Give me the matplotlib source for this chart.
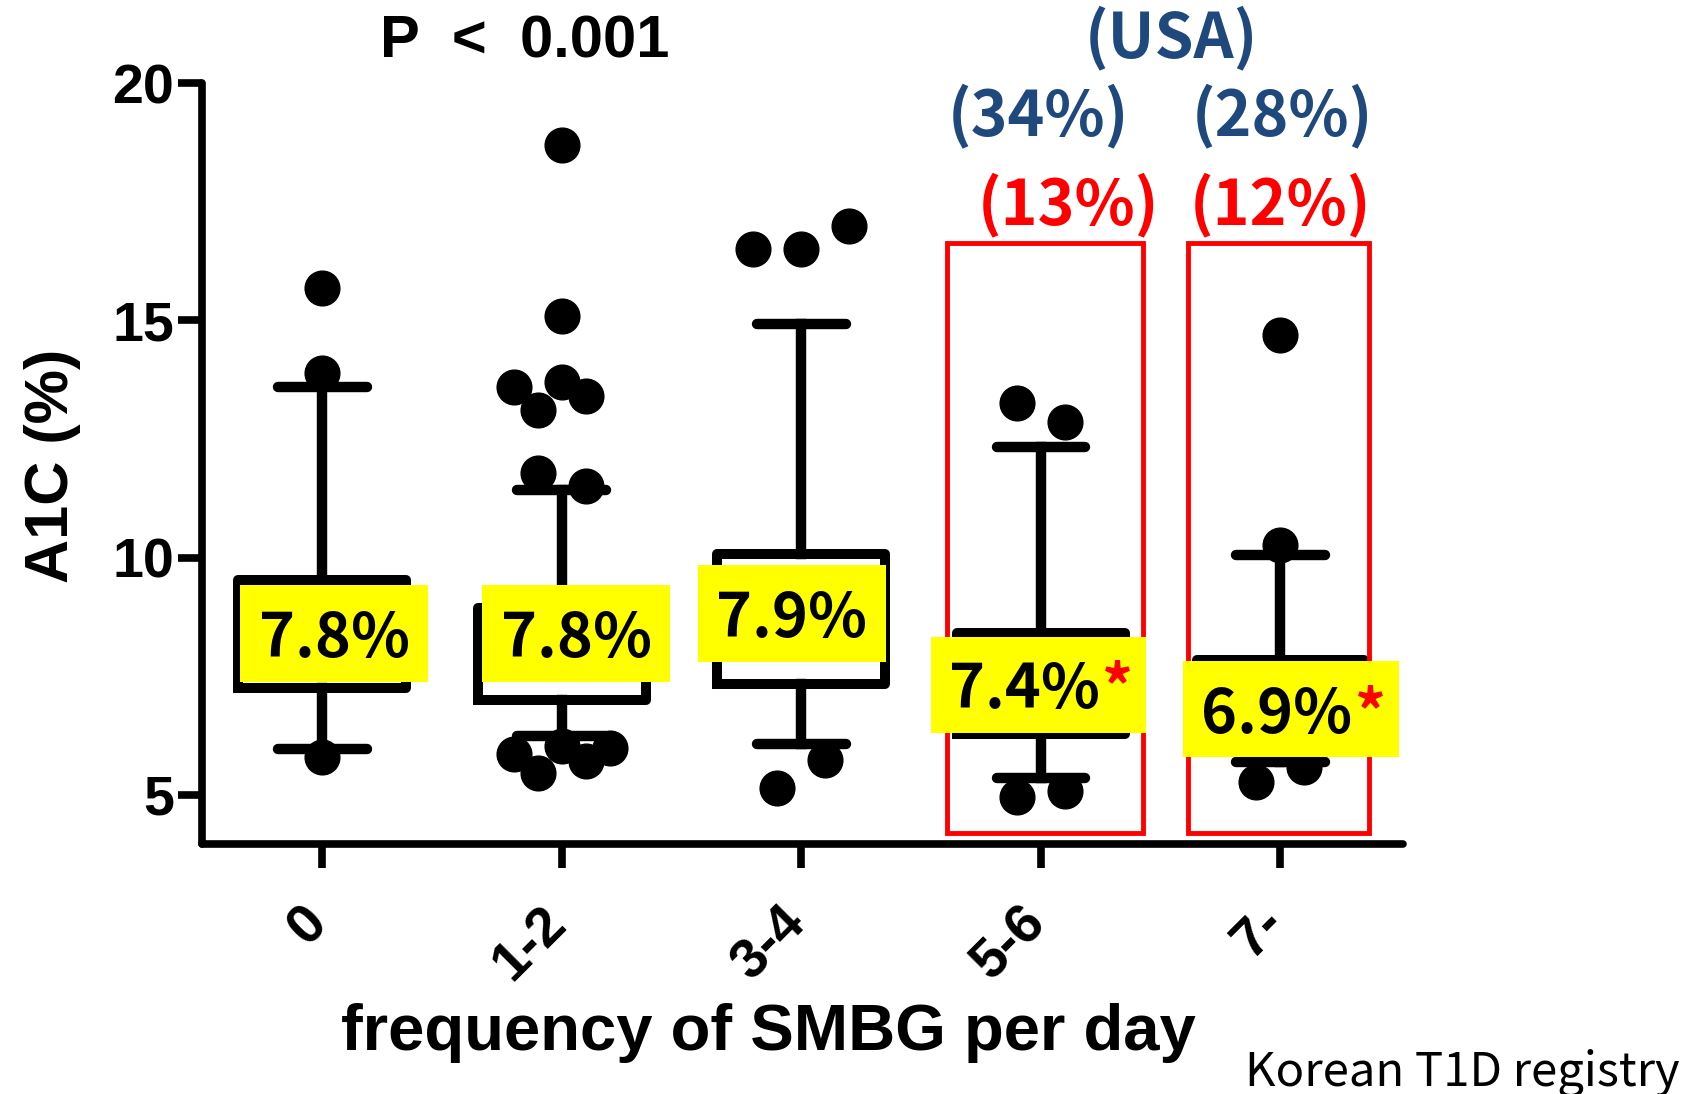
import numpy as np
import matplotlib.pyplot as plt
import matplotlib.transforms as mtransforms
from matplotlib.patches import Rectangle

groups = ['0', '1-2', '3-4', '5-6', '7-']
medians = [7.8, 7.8, 7.9, 7.4, 6.9]
q1 = [7.24, 7.00, 7.34, 6.29, 6.20]
q3 = [9.53, 8.94, 10.08, 8.42, 7.85]
whis_lo = [5.97, 6.24, 6.06, 5.36, 5.69]
whis_hi = [13.60, 11.42, 14.93, 12.33, 10.05]

# outliers of each group and their sideways jitter (in category units)
outlier_vals = [
    [15.69, 13.89, 5.79],
    [18.69, 15.10, 13.60, 13.70, 13.40, 13.11, 11.79, 11.50,
     5.85, 5.45, 6.02, 5.72, 5.98],
    [16.50, 16.50, 17.00, 5.14, 5.74],
    [13.27, 12.86, 4.96, 5.08],
    [14.69, 10.27, 5.27, 5.58],
]
outlier_jitter = [
    [0, 0, 0],
    [0, 0, -0.2, 0, 0.1, -0.1, -0.1, 0.1, -0.2, -0.1, 0, 0.1, 0.2],
    [-0.2, 0, 0.2, -0.1, 0.1],
    [-0.1, 0.1, -0.1, 0.1],
    [0, 0, -0.1, 0.1],
]
significant = [False, False, False, True, True]

# share of patients in the two highest SMBG groups
usa_share = ['(34%)', '(28%)']
korea_share = ['(13%)', '(12%)']

kfont = ['Noto Sans CJK KR', 'DejaVu Sans']
blue = '#1F497D'
plt.rcParams['font.family'] = 'Liberation Sans'

fig = plt.figure(figsize=(17.01, 10.94), dpi=100)
ax = fig.add_axes([0.1186, 0.2285, 0.7062, 0.6953])

pos = np.arange(len(groups))
stats = []
for i in range(len(groups)):
    stats.append(dict(med=medians[i], q1=q1[i], q3=q3[i],
                      whislo=whis_lo[i], whishi=whis_hi[i], fliers=[]))

ax.bxp(stats, positions=pos, widths=0.70, capwidths=0.37, showfliers=False,
       boxprops=dict(color='black', linewidth=7.2, solid_joinstyle='round'),
       whiskerprops=dict(color='black', linewidth=7.5),
       capprops=dict(color='black', linewidth=7.5, solid_capstyle='round'),
       medianprops=dict(color='black', linewidth=7))

for i in range(len(groups)):
    ax.plot(pos[i] + np.array(outlier_jitter[i]), outlier_vals[i], 'o',
            color='black', markersize=25, zorder=3, clip_on=False)

# red frames around the 5-6 and 7- groups
for i, (lw, rw) in zip([3, 4], [(0.393, 0.427), (0.387, 0.372)]):
    ax.add_patch(Rectangle((pos[i] - lw, 4.19), lw + rw, 16.64 - 4.19,
                           fill=False, edgecolor='red', linewidth=3.5, zorder=4))

# yellow median labels
lab_dx = [0.05, 0.06, -0.04, -0.01, 0.045]
lab_y = [8.40, 8.40, 8.82, 7.32, 6.80]
for i, m in enumerate(medians):
    w = 0.90 if significant[i] else 0.785
    cx = pos[i] + lab_dx[i]
    ax.add_patch(Rectangle((cx - w / 2, lab_y[i] - 1.015), w, 2.03,
                           facecolor='#FFFF00', edgecolor='none', zorder=5))
    tx = cx - 0.06 if significant[i] else cx
    t = ax.text(tx, lab_y[i] - 0.5, f'{m}%', ha='center', va='baseline',
                fontsize=44, fontweight='bold', family=kfont, zorder=6)
    if significant[i]:
        ax.annotate('*', xy=(1, 0), xycoords=t, xytext=(2, 0),
                    textcoords='offset points', ha='left', va='bottom',
                    color='red', fontsize=44, fontweight='bold',
                    family=kfont, zorder=6)

ax.text(0.847, 20.54, 'P  <  0.001', ha='center', va='baseline',
        fontsize=43, fontweight='bold')
ax.text(3.547, 20.54, '(USA)', ha='center', va='baseline', color=blue,
        fontsize=45, fontweight='bold', family=kfont)
for i, (us, kr) in enumerate(zip(usa_share, korea_share)):
    ax.text([2.99, 4.008][i], 18.91, us, ha='center', va='baseline',
            color=blue, fontsize=45, fontweight='bold', family=kfont)
    ax.text([3.115, 4.0][i], 17.02, kr, ha='center', va='baseline',
            color='red', fontsize=45, fontweight='bold', family=kfont)

ax.set_xlim(-0.503, 4.512)
ax.set_ylim(3.96, 20)
ax.set_yticks([5, 10, 15, 20])
ax.set_xticks(pos)
ax.set_xticklabels(groups, rotation=45, ha='right', va='top')
ax.tick_params(axis='both', width=5.5, length=17, labelsize=40)
ax.tick_params(axis='y', pad=3)
ax.tick_params(axis='x', pad=21)
shift = mtransforms.ScaledTranslation(0.15, 0, fig.dpi_scale_trans)
for lab in ax.get_xticklabels():
    lab.set_transform(lab.get_transform() + shift)
for lab in ax.get_xticklabels() + ax.get_yticklabels():
    lab.set_fontweight('bold')

for side in ['top', 'right']:
    ax.spines[side].set_visible(False)
for side in ['left', 'bottom']:
    ax.spines[side].set_linewidth(5.5)
    ax.spines[side].set_capstyle('round')

fig.text(0.0306, 0.5745, 'A1C (%)', rotation=90, ha='center', va='center',
         fontsize=44, fontweight='bold')
fig.text(0.452, 0.04, 'frequency of SMBG per day', ha='center',
         va='baseline', fontsize=47, fontweight='bold')
fig.text(0.9876, 0.008, 'Korean T1D registry', ha='right', va='baseline',
         fontsize=34, family=kfont)

fig.savefig('out.png', dpi=100)
